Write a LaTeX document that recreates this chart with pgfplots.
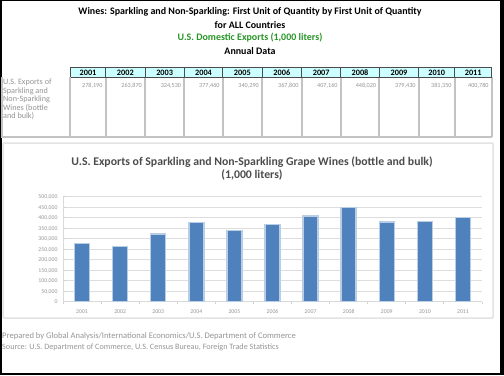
\documentclass[border=0pt]{standalone}
\usepackage{pgfplots}
\pgfplotsset{compat=1.18}
\usepackage{fontspec}
\setmainfont{Carlito}
\definecolor{barblue}{RGB}{79,129,189}
\definecolor{barlight}{RGB}{185,205,229}
\definecolor{hdrcyan}{RGB}{204,255,255}
\definecolor{titlegreen}{RGB}{40,150,40}
\definecolor{cellgray}{RGB}{195,195,195}
\definecolor{blurtext}{RGB}{150,150,150}
\begin{document}
\begin{tikzpicture}[x=1bp,y=1bp]
\useasboundingbox (0,0) rectangle (504,375);
\fill[white] (0,0) rectangle (504,375);
% frame
\draw[black,line width=2bp] (1,1.2) rectangle (501,374.5);
\fill[black] (500,0) rectangle (504,375);
\fill[black] (0,0) rectangle (504,2.5);
% titles
\begin{scope}[every node/.style={inner sep=0pt}]
\node[font=\fontsize{10}{11}\selectfont\bfseries] at (250,363.5) {Wines: Sparkling and Non-Sparkling: First Unit of Quantity by First Unit of Quantity};
\node[font=\fontsize{10}{11}\selectfont\bfseries] at (250,350.3) {for ALL Countries};
\node[font=\fontsize{10}{11}\selectfont\bfseries,text=titlegreen] at (250,337.5) {U.S. Domestic Exports (1,000 liters)};
\node[font=\fontsize{10}{11}\selectfont\bfseries] at (250,323.6) {Annual Data};
\end{scope}
% table
\def\colx{{70.3,105.7,145,184.3,222.7,262,301.7,340.7,379.3,418.7,454.7,491.7}}
\foreach \i/\yr/\val in {0/2001/{278,190},1/2002/{263,870},2/2003/{324,530},3/2004/{377,460},4/2005/{340,290},5/2006/{367,800},6/2007/{407,160},7/2008/{448,020},8/2009/{379,430},9/2010/{381,350},10/2011/{400,780}}{
  \pgfmathsetmacro{\xa}{\colx[\i]}
  \pgfmathsetmacro{\xb}{\colx[\i+1]}
  \fill[hdrcyan] (\xa,298) rectangle (\xb,307.5);
  \draw[cellgray,line width=1.8bp] (\xb,298) -- (\xb,238);
  \node[font=\fontsize{8.3}{9}\selectfont\bfseries,inner sep=0pt,anchor=base] at ({(\xa+\xb)/2},299.9) {\yr};
  \node[font=\fontsize{6.2}{7}\selectfont,text=blurtext,anchor=base east,inner sep=0pt] at (\xb-3,288) {\val};
}
\draw[black!70,line width=0.8bp] (70.3,298) rectangle (491.7,307.5);
\foreach \xx in {105.7,145,184.3,222.7,262,301.7,340.7,379.3,418.7,454.7}{
  \draw[black!70,line width=0.8bp] (\xx,298) -- (\xx,307.5);
}
\draw[cellgray,line width=1.8bp] (70.3,298) -- (70.3,238);
\draw[cellgray,line width=1.2bp] (2,298) -- (2,238) -- (491.7,238);
\node[font=\fontsize{8.2}{8.5}\selectfont,text=blurtext,anchor=north west,align=left,inner sep=0pt] at (3,296) {U.S. Exports of\\Sparkling and\\Non-Sparkling\\Wines (bottle\\and bulk)};
% chart area
\draw[gray!22,line width=1.5bp,rounded corners=1bp] (3,57) rectangle (493,232);
\node[font=\fontsize{11.8}{13}\selectfont\bfseries,text=black!70,inner sep=0pt] at (252,213.3) {U.S. Exports of Sparkling and Non-Sparkling Grape Wines (bottle and bulk)};
\node[font=\fontsize{11.8}{13}\selectfont\bfseries,text=black!70,inner sep=0pt] at (252,200) {(1,000 liters)};
\begin{axis}[
  at={(63bp,73.3bp)}, anchor=south west, scale only axis,
  width=419bp, height=105bp,
  xmin=-0.5, xmax=10.5, ymin=0, ymax=500000,
  ytick={0,50000,...,500000},
  xtick={0,...,10},
  xticklabels={2001,2002,2003,2004,2005,2006,2007,2008,2009,2010,2011},
  minor xtick={-0.5,0.5,...,10.5},
  ymajorgrids, grid style={draw=gray!27, line width=1.3bp},
  axis x line*=bottom, axis y line*=left,
  axis line style={draw=gray!30, line width=1bp, -},
  major x tick style={draw=none},
  minor x tick style={draw=gray!35, line width=1bp},
  major y tick style={draw=gray!35, line width=1bp},
  major tick length=3bp, minor tick length=2.5bp,
  ticklabel style={font=\fontsize{5.8}{6}\selectfont, text=blurtext, text height=4.2bp, text depth=0.6bp},
  xticklabel style={yshift=-1bp},
  yticklabel style={xshift=-2bp},
  scaled y ticks=false,
  yticklabel style={/pgf/number format/fixed, /pgf/number format/1000 sep={,}},
  /pgf/number format/assume math mode=true,
  ybar, bar width=15bp,
  clip=false,
]
\addplot[fill=barblue, draw=barlight, line width=1.5bp] coordinates {
 (0,278000) (1,264000) (2,323000) (3,377000) (4,340000) (5,367000)
 (6,407000) (7,448000) (8,379000) (9,381000) (10,400000)};
\end{axis}
% footer
\node[font=\fontsize{8.6}{9}\selectfont,text=blurtext,anchor=west,inner sep=0pt] at (2,39) {Prepared by Global Analysis/International Economics/U.S. Department of Commerce};
\node[font=\fontsize{8.2}{9}\selectfont,text=blurtext,anchor=west,inner sep=0pt] at (2,28) {Source: U.S. Department of Commerce, U.S. Census Bureau, Foreign Trade Statistics};
\end{tikzpicture}
\end{document}
